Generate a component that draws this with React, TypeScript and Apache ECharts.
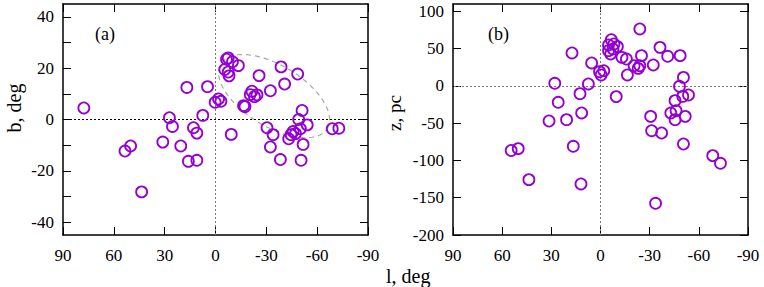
import React, { useEffect, useRef } from "react";
import * as echarts from "echarts";

// Panel (a): galactic longitude l and latitude b (deg)
const lA = [77.7, 53.4, 50.1, 43.6, 31.1, 27.2, 25.4, 20.5, 16.9, 16.0, 13.0, 11.0, 11.0, 7.5, 4.7, 0.2, -1.8, -3.2, -9.3, -16.6, -17.4,
  -6.5, -7.5, -10.0, -13.5, -5.5, -7.5, -8.0, -21.5, -20.5, -24.5, -23.0, -25.7, -32.4, -38.7, -40.8, -48.5,
  -51.1, -49.1, -54.1, -50.1, -45.8, -47.2, -44.6, -43.2, -51.7, -30.4, -34.0, -32.4, -38.3, -50.5, -68.9, -72.8];
const bA = [4.5, -12.3, -10.3, -28.2, -8.8, 0.7, -2.7, -10.3, 12.5, -16.3, -3.2, -15.9, -5.3, 1.6, 12.8, 6.7, 8.0, 7.1, -5.8, 5.4, 5.0,
  23.5, 24.0, 22.5, 21.0, 19.5, 18.5, 17.0, 11.0, 9.7, 9.6, 8.9, 17.1, 11.2, 20.5, 13.8, 17.7,
  3.5, 0.0, -2.1, -3.6, -4.7, -5.5, -5.9, -7.5, -9.7, -3.2, -5.9, -10.7, -15.6, -15.9, -3.6, -3.4];

// Panel (b): l (deg) and z (pc)
const lB = [54.5, 50.2, 43.7, 31.4, 27.9, 25.8, 20.7, 17.4, 16.6, 12.5, 11.5, 11.9, 7.4, 5.4, 0.6, -0.4, -2.0, -9.6,
  -6.6, -4.9, -8.2, -10.3, -4.9, -7.6, -6.2, -13.1, -15.8, -16.4, -20.5, -23.0, -24.0, -24.0, -25.0, -32.2, -36.3,
  -41.0, -48.6, -50.6, -48.2, -50.2, -53.7, -45.5, -42.9, -46.1, -45.5, -51.7, -30.6, -31.2, -37.3, -33.6, -50.6, -68.5, -73.2];
const zB = [-86.6, -84.1, -125.7, -47.0, 3.6, -21.9, -45.2, 44.3, -81.0, -10.3, -36.2, -131.5, 2.7, 30.9, 19.2, 14.8, 20.5, -14.3,
  62.1, 55.0, 56.4, 52.8, 47.4, 49.7, 43.0, 38.4, 36.2, 14.8, 27.2, 23.6, 27.2, 76.5, 40.7, 28.2, 51.8,
  39.8, 40.7, 11.5, -0.5, -14.0, -12.1, -19.7, -36.2, -33.2, -45.2, -40.8, -40.8, -60.0, -63.1, -157.5, -77.9, -93.5, -103.8];

// Tick values
const bTicks = [-40, -30, -20, -10, 0, 10, 20, 30, 40];
const bLabels = [-40, -20, 0, 20, 40];
const zTicks = [-200, -150, -100, -50, 0, 50, 100];

// Ellipse outline in panel (a): centre, end of major axis, end of minor axis (l, b)
const ellCenter = [-34.6, 9.1];
const ellMajor = [-66.0, -3.5];
const ellMinor = [-43.9, 19.3];

const PURPLE = "#9400d3";
const FONT = "Liberation Serif";

export default function App() {
  const ref = useRef<HTMLDivElement>(null);
  useEffect(() => {
    if (!ref.current) return;
    const chart = echarts.init(ref.current, null, { renderer: "svg" });

    const axLine = { show: true, onZero: false, lineStyle: { color: "#000", width: 1.5 } };
    const tick = { show: true, inside: true, length: 8, lineStyle: { color: "#000", width: 1 } };
    const lbl = { show: true, fontFamily: FONT, fontSize: 17, color: "#000" };

    const xAx = (gridIndex: number, pos: "bottom" | "top") => ({
      type: "value", gridIndex, position: pos, min: -90, max: 90, interval: 30, inverse: true,
      axisLine: axLine, axisTick: tick, splitLine: { show: false },
      axisLabel: pos === "bottom" ? { ...lbl, margin: 12 } : { show: false },
    });

    const yAx = (gridIndex: number, pos: "left" | "right", min: number, max: number, ticks: number[], labels: number[]) => ({
      type: "value", gridIndex, position: pos, min, max,
      axisLine: axLine,
      axisTick: { ...tick, customValues: ticks },
      splitLine: { show: false },
      axisLabel: pos === "left" ? { ...lbl, margin: 9, customValues: labels } : { show: false },
    });

    const scatterStyle = { color: "rgba(0,0,0,0)", borderColor: PURPLE, borderWidth: 1.8, opacity: 1 };
    const textStyle = (size: number) => ({ fontFamily: FONT, fontSize: size, fill: "#000" });

    const option = {
      animation: false,
      grid: [
        { left: 63, top: 4, width: 305, height: 231 },
        { left: 453, top: 4, width: 295, height: 231 },
      ],
      xAxis: [xAx(0, "bottom"), xAx(0, "top"), xAx(1, "bottom"), xAx(1, "top")],
      yAxis: [
        yAx(0, "left", -45, 45, bTicks, bLabels),
        yAx(0, "right", -45, 45, bTicks, bLabels),
        yAx(1, "left", -200, 110, zTicks, zTicks),
        yAx(1, "right", -200, 110, zTicks, zTicks),
      ],
      graphic: [
        { type: "text", left: 95, top: 25, style: { text: "(a)", ...textStyle(18) } },
        { type: "text", left: 488, top: 25, style: { text: "(b)", ...textStyle(18) } },
        { type: "text", x: 14, y: 108, rotation: Math.PI / 2, style: { text: "b, deg", ...textStyle(20), align: "center", verticalAlign: "middle" } },
        { type: "text", x: 394, y: 113, rotation: Math.PI / 2, style: { text: "z, pc", ...textStyle(19), align: "center", verticalAlign: "middle" } },
        { type: "text", left: 386, top: 266, style: { text: "l, deg", ...textStyle(20) } },
      ],
      series: [
        {
          type: "custom", xAxisIndex: 0, yAxisIndex: 0, z: 1, silent: true,
          data: [ellCenter],
          renderItem: (_p: any, api: any) => {
            const c = api.coord(ellCenter);
            const a = api.coord(ellMajor);
            const b = api.coord(ellMinor);
            const pts: number[][] = [];
            for (let i = 0; i <= 120; i++) {
              const t = (i / 120) * Math.PI * 2;
              pts.push([
                c[0] + Math.cos(t) * (a[0] - c[0]) + Math.sin(t) * (b[0] - c[0]),
                c[1] + Math.cos(t) * (a[1] - c[1]) + Math.sin(t) * (b[1] - c[1]),
              ]);
            }
            return { type: "polyline", shape: { points: pts }, style: { fill: "none", stroke: "#a8a8a8", lineWidth: 1.2, lineDash: [5, 4] } };
          },
        },
        {
          type: "scatter", xAxisIndex: 0, yAxisIndex: 0, z: 3,
          symbol: "circle", symbolSize: 11, itemStyle: scatterStyle,
          data: lA.map((l, i) => [l, bA[i]]),
          markLine: {
            silent: true, symbol: "none", label: { show: false }, z: 2,
            data: [
              { xAxis: 0, lineStyle: { color: "#777", type: [2, 2], width: 1 } },
              { yAxis: 0, lineStyle: { color: "#000", type: [2, 2], width: 1 } },
            ],
          },
        },
        {
          type: "scatter", xAxisIndex: 2, yAxisIndex: 2, z: 3,
          symbol: "circle", symbolSize: 11, itemStyle: scatterStyle,
          data: lB.map((l, i) => [l, zB[i]]),
          markLine: {
            silent: true, symbol: "none", label: { show: false }, z: 2,
            data: [
              { xAxis: 0, lineStyle: { color: "#777", type: [2, 2], width: 1 } },
              { yAxis: 0, lineStyle: { color: "#777", type: [2, 2], width: 1 } },
            ],
          },
        },
      ],
    };
    chart.setOption(option as any);
    return () => chart.dispose();
  }, []);
  return <div ref={ref} style={{ position: "fixed", left: 0, top: 0, width: 764, height: 287, background: "#fff" }} />;
}
